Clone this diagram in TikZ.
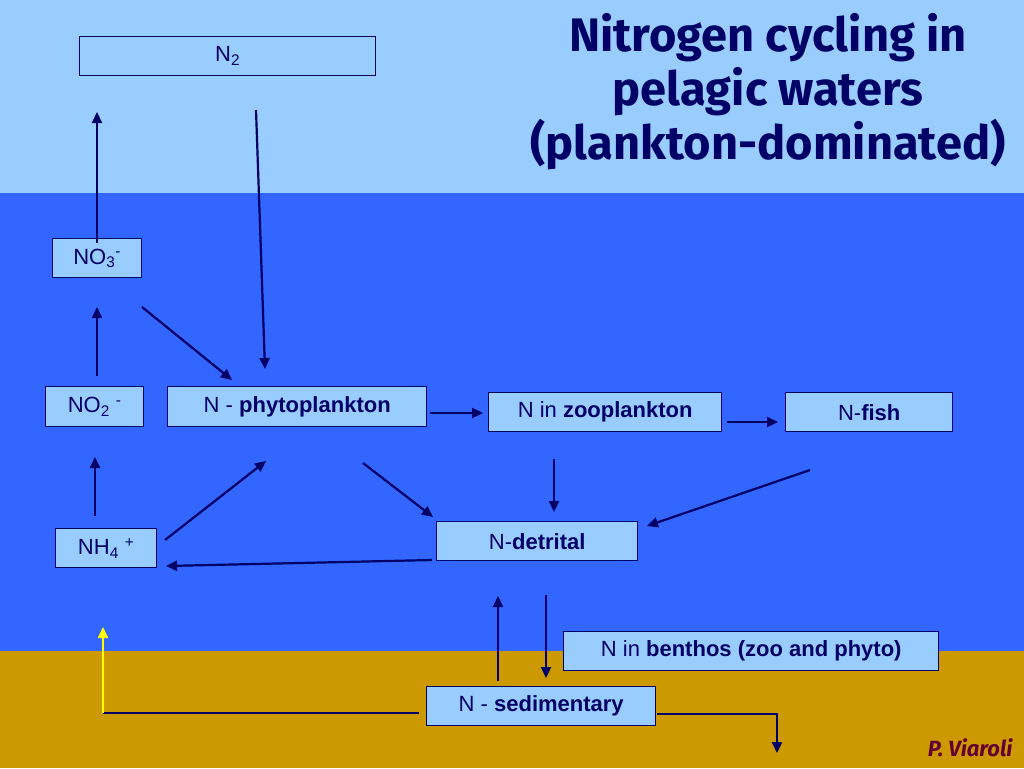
\documentclass[tikz,border=0pt]{standalone}
\usepackage{fontspec}
\setmainfont{Liberation Sans}
\newfontfamily\titlefont{Fira Sans}
\usetikzlibrary{arrows.meta}
\definecolor{sky}{HTML}{99CCFF}
\definecolor{water}{HTML}{3366FF}
\definecolor{sed}{HTML}{CC9900}
\definecolor{navy}{HTML}{000066}
\definecolor{auth}{HTML}{660033}
\definecolor{yel}{HTML}{FFFF00}
\begin{document}
\begin{tikzpicture}[x=1pt,y=-1pt,
  box/.style={draw=navy, line width=1.4pt, fill=sky, text=navy,
    font=\fontsize{22}{26}\selectfont, inner sep=0pt, anchor=north west},
  flow/.style={draw=navy, line width=2.2pt, -{Triangle[length=11pt,width=10pt]}},
  plain/.style={draw=navy, line width=2.2pt},
  yflow/.style={draw=yel, line width=2.2pt, -{Triangle[length=11pt,width=10pt]}}
]
\useasboundingbox (0,0) rectangle (1024,768);
\fill[sky] (0,0) rectangle (1024,193);
\fill[water] (0,193) rectangle (1024,651);
\fill[sed] (0,651) rectangle (1024,768);

% title and author
\node[font=\titlefont\bfseries\fontsize{47}{54}\selectfont, text=navy, align=center]
  (title) at (768,92) {Nitrogen cycling in\\pelagic waters\\(plankton-dominated)};
\node[font=\titlefont\bfseries\itshape\fontsize{22}{24}\selectfont, text=auth, anchor=east]
  (author) at (1016,748) {P. Viaroli};

% boxes
\node[box, minimum width=296pt, minimum height=39pt] (n2) at (79,36) {N\textsubscript{2}};
\node[box, minimum width=89pt, minimum height=39pt] (no3) at (52,238) {NO\textsubscript{3}\textsuperscript{-}};
\node[box, minimum width=98pt, minimum height=40pt] (no2) at (45,386) {NO\textsubscript{2} \textsuperscript{-}};
\node[box, minimum width=259pt, minimum height=40pt] (phyto) at (167,386) {N - \textbf{phytoplankton}};
\node[box, minimum width=233pt, minimum height=39pt] (zoo) at (488,392) {N in \textbf{zooplankton}};
\node[box, minimum width=167pt, minimum height=39pt] (fish) at (785,392) {N-\textbf{fish}};
\node[box, minimum width=201pt, minimum height=39pt] (det) at (436,521) {N-\textbf{detrital}};
\node[box, minimum width=101pt, minimum height=39pt] (nh4) at (55,528) {NH\textsubscript{4} \textsuperscript{+}};
\node[box, minimum width=375pt, minimum height=39pt] (benth) at (563,631) {N in \textbf{benthos (zoo and phyto)}};
\node[box, minimum width=229pt, minimum height=39pt] (sedi) at (426,686) {N - \textbf{sedimentary}};

% connector end points
\coordinate (a1) at (97,243);  \coordinate (a2) at (97,112);
\coordinate (b1) at (256,110); \coordinate (b2) at (265,369);
\coordinate (c1) at (142,307); \coordinate (c2) at (232,380);
\coordinate (d1) at (97,376);  \coordinate (d2) at (97,307);
\coordinate (e1) at (95,516);  \coordinate (e2) at (95,457);
\coordinate (f1) at (165,540); \coordinate (f2) at (266,461);
\coordinate (g1) at (363,463); \coordinate (g2) at (433,517);
\coordinate (h1) at (432,560); \coordinate (h2) at (166,566);
\coordinate (i1) at (430,413); \coordinate (i2) at (483,413);
\coordinate (j1) at (727,422); \coordinate (j2) at (778,422);
\coordinate (k1) at (554,459); \coordinate (k2) at (554,512);
\coordinate (l1) at (810,470); \coordinate (l2) at (647,526);
\coordinate (m1) at (498,681); \coordinate (m2) at (498,596);
\coordinate (o1) at (546,595); \coordinate (o2) at (546,678);
\coordinate (p1) at (419,713); \coordinate (p2) at (103,713); \coordinate (p3) at (103,627);
\coordinate (q1) at (657,714); \coordinate (q2) at (777,714); \coordinate (q3) at (777,753);

\draw[flow] (a1) -- (a2);
\draw[flow] (b1) -- (b2);
\draw[flow] (c1) -- (c2);
\draw[flow] (d1) -- (d2);
\draw[flow] (e1) -- (e2);
\draw[flow] (f1) -- (f2);
\draw[flow] (g1) -- (g2);
\draw[flow] (h1) -- (h2);
\draw[flow] (i1) -- (i2);
\draw[flow] (j1) -- (j2);
\draw[flow] (k1) -- (k2);
\draw[flow] (l1) -- (l2);
\draw[flow] (m1) -- (m2);
\draw[flow] (o1) -- (o2);
\draw[plain] (p1) -- (p2);
\draw[yflow] (p2) -- (p3);
\draw[flow] (q1) -- (q2) -- (q3);
\end{tikzpicture}
\end{document}
